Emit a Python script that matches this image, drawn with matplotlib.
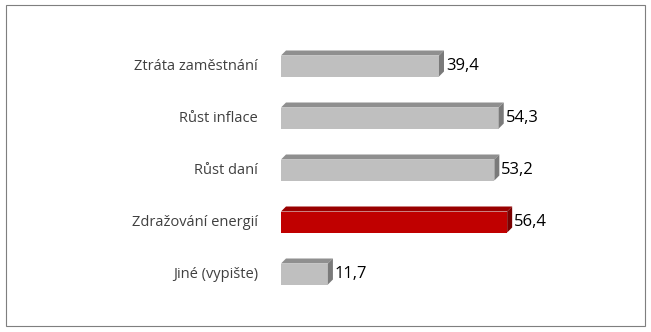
import numpy as np
import matplotlib.pyplot as plt
from matplotlib.patches import Rectangle

categories = ["Ztráta zaměstnání", "Růst inflace", "Růst daní",
              "Zdražování energií", "Jiné (vypište)"]
values = [39.4, 54.3, 53.2, 56.4, 11.7]
value_labels = ["39,4", "54,3", "53,2", "56,4", "11,7"]
highlight = 3

W, H = 651, 332
fig = plt.figure(figsize=(W / 100, H / 100), dpi=100)
fig.patch.set_facecolor("white")

# outer frame
fig.add_artist(Rectangle((6 / W, 1 - 326 / H), 639 / W, 321 / H,
                         transform=fig.transFigure, fill=False,
                         edgecolor="#7f7f7f", linewidth=0.8))

px_per_unit = 4.01
ax_left, ax_width = 281, 340
top, bottom = 40, 300
ax = fig.add_axes([ax_left / W, 1 - bottom / H, ax_width / W, (bottom - top) / H])
ax.set_xlim(0, ax_width / px_per_unit)
ax.set_ylim(len(values) - 0.5, -0.5)
ax.axis("off")

row_px = (bottom - top) / len(values)
bar_h = 21 / row_px
dx = 5 / px_per_unit
dy = 5 / row_px

for i, (v, lab) in enumerate(zip(values, value_labels)):
    if i == highlight:
        front, topc, side = "#c00000", "#990000", "#7a0000"
    else:
        front, topc, side = "#bfbfbf", "#8f8f8f", "#7a7a7a"
    y0 = i - bar_h / 2
    y1 = i + bar_h / 2
    ax.fill([0, v, v, 0], [y0, y0, y1, y1], color=front, lw=0)
    ax.fill([0, v, v + dx, dx], [y0, y0, y0 - dy, y0 - dy], color=topc, lw=0)
    ax.fill([v, v + dx, v + dx, v], [y0, y0 - dy, y1 - dy, y1], color=side, lw=0)
    ax.text(v + dx + 0.5, i, lab, va="center", ha="left", fontsize=12,
            family="Open Sans", color="black")
    ax.text(-23 / px_per_unit, i, categories[i], va="center", ha="right",
            fontsize=10.5, family="Open Sans", color="#404040", clip_on=False)

fig.savefig("out.png", dpi=100)
